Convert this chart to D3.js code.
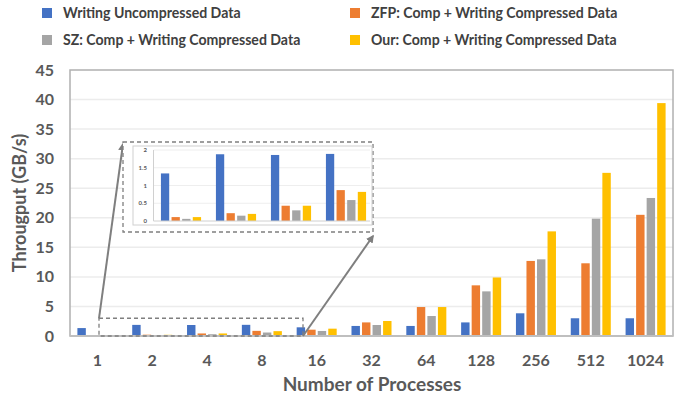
<!DOCTYPE html>
<html>
<head>
<meta charset="utf-8">
<style>
  body { margin: 0; background: #fff; }
  text { font-family: Lato, "Open Sans", sans-serif; font-weight: bold; }
</style>
</head>
<body>
<svg width="682" height="402"></svg>
<script src="https://d3js.org/d3.v7.min.js"></script>
<script>
// data
var processes = ["1", "2", "4", "8", "16", "32", "64", "128", "256", "512", "1024"];
var seriesNames = ["Writing Uncompressed Data", "ZFP: Comp + Writing Compressed Data",
                   "SZ: Comp + Writing Compressed Data", "Our: Comp + Writing Compressed Data"];
var uncompressed = [1.34, 1.88, 1.86, 1.89, 1.47, 1.7, 1.7, 2.3, 3.84, 3.0, 3.0];
var zfp          = [0.11, 0.22, 0.43, 0.87, 1.07, 2.3, 4.9, 8.57, 12.7, 12.3, 20.5];
var sz           = [0.06, 0.15, 0.30, 0.59, 0.85, 1.86, 3.38, 7.55, 12.97, 19.85, 23.35];
var ours         = [0.11, 0.20, 0.43, 0.82, 1.24, 2.54, 4.9, 9.9, 17.7, 27.6, 39.4];
var yTicks = [0, 5, 10, 15, 20, 25, 30, 35, 40, 45];
var insetTicks = [0, 0.5, 1, 1.5, 2];
var colors = ["#4472C4", "#ED7D31", "#A5A5A5", "#FFC000"];

var series = [uncompressed, zfp, sz, ours];
var rows = processes.map(function(p, i) {
  return { p: p, v: series.map(function(s) { return s[i]; }) };
});

var svg = d3.select("svg");
var plotL = 70, plotR = 673, plotT = 70, plotB = 336;

var x0 = d3.scaleBand().domain(processes).range([plotL, plotR]).paddingInner(0.27).paddingOuter(0.135);
var x1 = d3.scaleBand().domain(d3.range(4)).range([0, x0.bandwidth()]).paddingInner(0.2);
var y = d3.scaleLinear().domain([0, 45]).range([plotB, plotT]);

// grid
svg.append("g").selectAll("line").data(yTicks.slice(1, -1)).enter().append("line")
  .attr("x1", plotL).attr("x2", plotR)
  .attr("y1", function(d) { return y(d); }).attr("y2", function(d) { return y(d); })
  .attr("stroke", "#ececec").attr("stroke-width", 1.5);

// frame
svg.append("rect").attr("x", plotL).attr("y", plotT).attr("width", plotR - plotL).attr("height", plotB - plotT)
  .attr("fill", "none").attr("stroke", "#b0b0b0").attr("stroke-width", 1.5);

// bars
svg.append("g").selectAll("g").data(rows).enter().append("g")
  .attr("transform", function(d) { return "translate(" + x0(d.p) + ",0)"; })
  .selectAll("rect").data(function(d) { return d.v; }).enter().append("rect")
  .attr("x", function(d, i) { return x1(i); })
  .attr("width", x1.bandwidth())
  .attr("y", function(d) { return y(d); })
  .attr("height", function(d) { return plotB - y(d); })
  .attr("fill", function(d, i) { return colors[i]; });

// x axis line
svg.append("line").attr("x1", plotL).attr("x2", plotR).attr("y1", plotB).attr("y2", plotB)
  .attr("stroke", "#bfbfbf").attr("stroke-width", 2);

// y tick labels
svg.append("g").selectAll("text").data(yTicks).enter().append("text")
  .attr("x", 54).attr("y", function(d) { return y(d); }).attr("dy", "0.35em")
  .attr("text-anchor", "end").attr("font-size", 16).attr("fill", "#595959")
  .text(function(d) { return d; });

// x tick labels
svg.append("g").selectAll("text").data(processes).enter().append("text")
  .attr("x", function(d) { return x0(d) + x0.bandwidth() / 2; }).attr("y", 366)
  .attr("text-anchor", "middle").attr("font-size", 16).attr("fill", "#595959")
  .text(function(d) { return d; });

svg.append("text").attr("x", 372).attr("y", 391).attr("text-anchor", "middle")
  .attr("font-size", 19).attr("fill", "#595959").text("Number of Processes");
svg.append("text").attr("transform", "translate(26,203) rotate(-90)").attr("text-anchor", "middle")
  .attr("font-size", 18).attr("fill", "#595959").text("Througput (GB/s)");

// zoom callout: small dashed box and arrows
var gray = "#7f7f7f";
var boxL = 99, boxR = 303, boxT = y(3);
svg.append("rect").attr("x", boxL).attr("y", boxT).attr("width", boxR - boxL).attr("height", plotB - boxT)
  .attr("fill", "none").attr("stroke", gray).attr("stroke-width", 1.3).attr("stroke-dasharray", "4,3");

svg.append("defs").append("marker").attr("id", "ah").attr("viewBox", "0 0 10 10")
  .attr("refX", 8).attr("refY", 5).attr("markerWidth", 4).attr("markerHeight", 4).attr("orient", "auto")
  .append("path").attr("d", "M0,0L10,5L0,10z").attr("fill", gray);

var inL = 123, inR = 373, inT = 142, inB = 232;
svg.append("line").attr("x1", boxL).attr("y1", boxT).attr("x2", inL).attr("y2", inT + 2)
  .attr("stroke", gray).attr("stroke-width", 2).attr("marker-end", "url(#ah)");
svg.append("line").attr("x1", boxR).attr("y1", plotB).attr("x2", inR).attr("y2", inB + 4)
  .attr("stroke", gray).attr("stroke-width", 2).attr("marker-end", "url(#ah)");

// inset
svg.append("rect").attr("x", inL).attr("y", inT).attr("width", inR - inL).attr("height", inB - inT)
  .attr("fill", "#fff").attr("stroke", gray).attr("stroke-width", 1.3).attr("stroke-dasharray", "4,3");
svg.append("rect").attr("x", 133).attr("y", 146).attr("width", 239).attr("height", 79)
  .attr("fill", "#fff").attr("stroke", "#d0d0d0").attr("stroke-width", 1);

var insetRows = rows.slice(0, 4);
var ix0 = d3.scaleBand().domain(insetRows.map(function(d) { return d.p; })).range([153.5, 373.5])
  .paddingInner(0.27).paddingOuter(0.135);
var ix1 = d3.scaleBand().domain(d3.range(4)).range([0, ix0.bandwidth()]).paddingInner(0.22);
var iy = d3.scaleLinear().domain([0, 2]).range([221, 150]);

svg.append("g").selectAll("line").data(insetTicks.slice(1)).enter().append("line")
  .attr("x1", 153.5).attr("x2", 370)
  .attr("y1", function(d) { return iy(d); }).attr("y2", function(d) { return iy(d); })
  .attr("stroke", "#eeeeee").attr("stroke-width", 1);
svg.append("line").attr("x1", 153.5).attr("x2", 153.5).attr("y1", 150).attr("y2", 221)
  .attr("stroke", "#d0d0d0");

svg.append("g").selectAll("g").data(insetRows).enter().append("g")
  .attr("transform", function(d) { return "translate(" + ix0(d.p) + ",0)"; })
  .selectAll("rect").data(function(d) { return d.v; }).enter().append("rect")
  .attr("x", function(d, i) { return ix1(i); })
  .attr("width", ix1.bandwidth())
  .attr("y", function(d) { return iy(d); })
  .attr("height", function(d) { return 221 - iy(d); })
  .attr("fill", function(d, i) { return colors[i]; });

svg.append("line").attr("x1", 153.5).attr("x2", 370).attr("y1", 221).attr("y2", 221)
  .attr("stroke", "#d0d0d0");

svg.append("g").selectAll("text").data(insetTicks).enter().append("text")
  .attr("x", 147).attr("y", function(d) { return iy(d); }).attr("dy", "0.35em")
  .attr("text-anchor", "end").attr("font-size", 6).attr("fill", "#595959")
  .text(function(d) { return d; });

// legend (Lato runs a little wider than the original face)
var legPos = [[42, 13], [350, 13], [42, 40], [350, 40]];
var legend = svg.append("g").selectAll("g").data(seriesNames).enter().append("g")
  .attr("transform", function(d, i) { return "translate(" + legPos[i][0] + "," + legPos[i][1] + ")"; });
legend.append("rect").attr("x", 0).attr("y", -5).attr("width", 10).attr("height", 10)
  .attr("fill", function(d, i) { return colors[i]; });
legend.append("text").attr("x", 21).attr("dy", "0.35em").attr("font-size", 15)
  .attr("fill", "#404040").text(function(d) { return d; })
  .each(function() {
    var w = this.getComputedTextLength();
    d3.select(this).attr("textLength", w * 0.94).attr("lengthAdjust", "spacingAndGlyphs");
  });
</script>
</body>
</html>
